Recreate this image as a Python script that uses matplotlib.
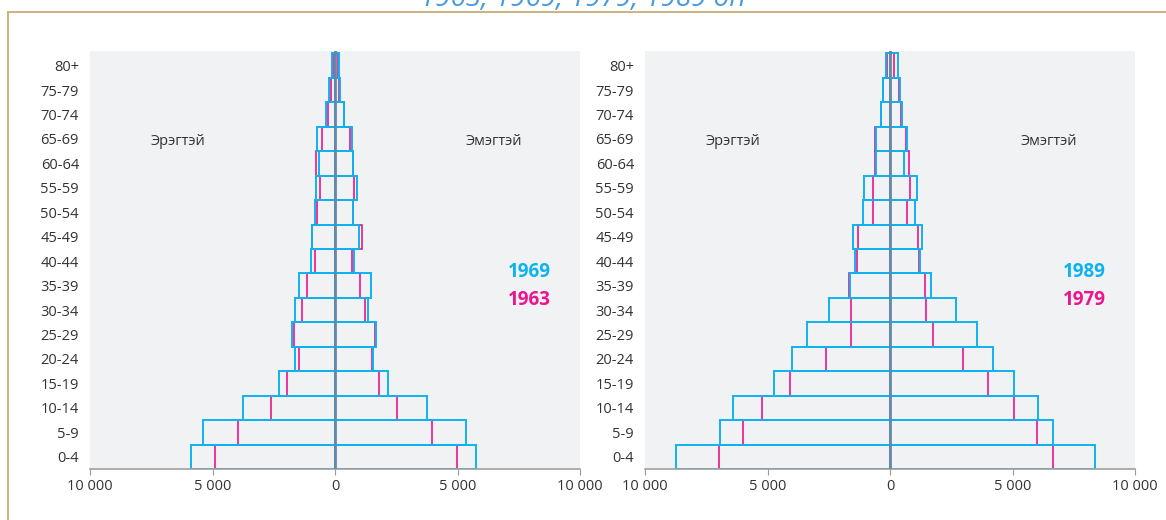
import matplotlib.pyplot as plt
from matplotlib.lines import Line2D
import numpy as np

plt.rcParams['font.family'] = ['Open Sans', 'DejaVu Sans']

ages = ["0-4", "5-9", "10-14", "15-19", "20-24", "25-29", "30-34", "35-39",
        "40-44", "45-49", "50-54", "55-59", "60-64", "65-69", "70-74", "75-79", "80+"]

# population (persons), men / women
men_1963 = [4900, 3950, 2600, 1970, 1480, 1690, 1350, 1140, 820, 950, 720, 610, 760, 540, 270, 180, 100]
women_1963 = [4980, 3960, 2520, 1800, 1530, 1650, 1210, 1010, 680, 1110, 730, 790, 730, 600, 350, 160, 120]
men_1969 = [5880, 5390, 3760, 2300, 1630, 1770, 1630, 1480, 990, 950, 820, 760, 650, 750, 370, 230, 120]
women_1969 = [5760, 5360, 3770, 2180, 1550, 1690, 1350, 1460, 790, 980, 730, 880, 730, 690, 370, 220, 180]

men_1979 = [6990, 6010, 5230, 4070, 2600, 1580, 1580, 1690, 1340, 1310, 700, 710, 630, 620, 350, 270, 110]
women_1979 = [6660, 5980, 5070, 3990, 2970, 1760, 1480, 1420, 1180, 1130, 700, 800, 760, 670, 440, 350, 180]
men_1989 = [8730, 6930, 6400, 4740, 4010, 3380, 2510, 1640, 1420, 1530, 1090, 1050, 580, 580, 380, 270, 180]
women_1989 = [8380, 6660, 6030, 5070, 4200, 3560, 2690, 1670, 1230, 1290, 1000, 1090, 590, 690, 470, 390, 320]

panels = [
    ("1969", "1963", men_1969, women_1969, men_1963, women_1963),
    ("1989", "1979", men_1989, women_1989, men_1979, women_1979),
]

CYAN = "#0db3ef"
MAGENTA = "#ec148f"
CENTER = "#6688a6"
BG = "#f1f2f4"

fig = plt.figure(figsize=(11.66, 5.2), dpi=100)

# frame lines and cut-off title
fig.add_artist(Line2D([8 / 1166, 1], [1 - 12 / 520, 1 - 12 / 520], color="#c9ad72", lw=1.3))
fig.add_artist(Line2D([8 / 1166, 8 / 1166], [0, 1 - 12 / 520], color="#c9ad72", lw=1.3))
fig.text(0.5, 1 - 6 / 520, "1963, 1969, 1979, 1989 он", ha="center", va="baseline",
         fontsize=20, style="italic", color="#4a9ade")

lefts = [90 / 1166, 645 / 1166]
y = np.arange(len(ages))

for left, (new, old, m_new, w_new, m_old, w_old) in zip(lefts, panels):
    ax = fig.add_axes([left, (520 - 469) / 520, 490 / 1166, 418 / 520])
    ax.set_facecolor(BG)

    # earlier year (magenta) under the later year (cyan)
    ax.barh(y, -np.array(m_old), height=1.0, fill=False, edgecolor=MAGENTA, lw=1.2)
    ax.barh(y, w_old, height=1.0, fill=False, edgecolor=MAGENTA, lw=1.2)
    ax.barh(y, -np.array(m_new), height=1.0, fill=False, edgecolor=CYAN, lw=1.4)
    ax.barh(y, w_new, height=1.0, fill=False, edgecolor=CYAN, lw=1.4)
    ax.axvline(0, color=CENTER, lw=2, zorder=5)

    ax.set_xlim(-10000, 10000)
    ax.set_ylim(-0.5, 16.6)
    ax.set_xticks([-10000, -5000, 0, 5000, 10000])
    ax.set_xticklabels(["10 000", "5 000", "0", "5 000", "10 000"])
    ax.set_yticks(y)
    ax.set_yticklabels(ages)
    ax.tick_params(axis="y", length=0, pad=8, labelsize=10.5, labelcolor="#333333")
    ax.tick_params(axis="x", length=4, color="#999999", pad=3, labelsize=10.5, labelcolor="#333333")
    for s in ["top", "right", "left"]:
        ax.spines[s].set_visible(False)
    ax.spines["bottom"].set_color("#a0a0a0")
    ax.spines["bottom"].set_linewidth(1.2)

    ax.text(-6400, 12.9, "Эрэгтэй", ha="center", va="center", fontsize=10.5, color="#333333")
    ax.text(6500, 12.9, "Эмэгтэй", ha="center", va="center", fontsize=10.5, color="#333333")
    ax.text(7950, 7.55, new, ha="center", va="center", fontsize=13.5, fontweight="bold", color=CYAN)
    ax.text(7950, 6.4, old, ha="center", va="center", fontsize=13.5, fontweight="bold", color=MAGENTA)

fig.savefig("out.png", dpi=100)
